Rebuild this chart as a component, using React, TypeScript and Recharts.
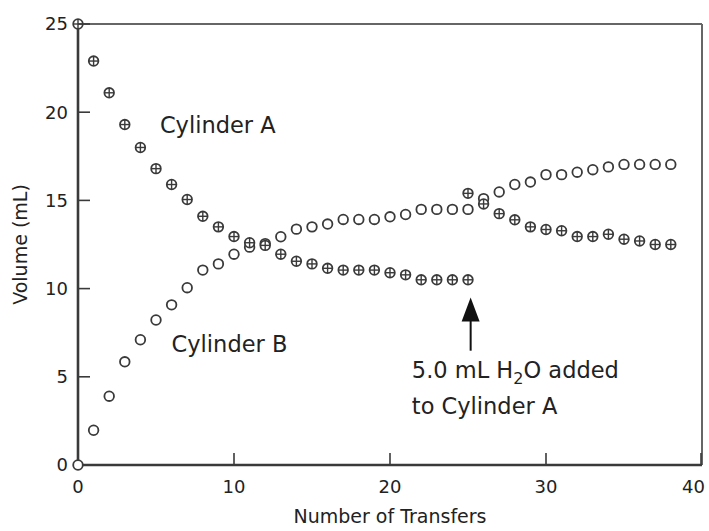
import React from 'react';
import {
  ScatterChart,
  Scatter,
  XAxis,
  YAxis,
  ReferenceLine,
  ReferenceDot,
} from 'recharts';

// Number of transfers
const transfersA1 = [0, 1, 2, 3, 4, 5, 6, 7, 8, 9, 10, 11, 12, 13, 14, 15, 16, 17, 18, 19, 20, 21, 22, 23, 24, 25];
const volumeA1 = [25.0, 22.9, 21.1, 19.3, 18.0, 16.8, 15.9, 15.05, 14.1, 13.5, 12.95, 12.6, 12.45, 11.95, 11.55, 11.4, 11.15, 11.05, 11.05, 11.05, 10.9, 10.78, 10.5, 10.5, 10.5, 10.5];
const transfersA2 = [25, 26, 27, 28, 29, 30, 31, 32, 33, 34, 35, 36, 37, 38];
const volumeA2 = [15.4, 14.8, 14.25, 13.9, 13.5, 13.35, 13.28, 12.95, 12.95, 13.08, 12.8, 12.7, 12.5, 12.5];
const transfersB = [0, 1, 2, 3, 4, 5, 6, 7, 8, 9, 10, 11, 12, 13, 14, 15, 16, 17, 18, 19, 20, 21, 22, 23, 24, 25, 26, 27, 28, 29, 30, 31, 32, 33, 34, 35, 36, 37, 38];
const volumeB = [0, 1.97, 3.9, 5.85, 7.1, 8.22, 9.08, 10.05, 11.05, 11.4, 11.95, 12.35, 12.55, 12.94, 13.37, 13.5, 13.66, 13.92, 13.92, 13.92, 14.07, 14.2, 14.49, 14.49, 14.49, 14.49, 15.1, 15.48, 15.9, 16.04, 16.46, 16.46, 16.6, 16.74, 16.9, 17.04, 17.04, 17.04, 17.04];

const xTicks = [0, 10, 20, 30, 40];
const yTicks = [0, 5, 10, 15, 20, 25];

const labelCylA = { x: 5.25, y: 18.8, text: 'Cylinder A' };
const labelCylB = { x: 6.0, y: 6.4, text: 'Cylinder B' };
const noteLine1 = { x: 21.4, y: 4.93 };
const noteLine2 = { x: 21.4, y: 2.88, text: 'to Cylinder A' };
const arrowX = 25.17;
const arrowTipY = 9.5;
const arrowBaseY = 6.48;

const dataA = [
  ...transfersA1.map((t, i) => ({ x: t, y: volumeA1[i] })),
  ...transfersA2.map((t, i) => ({ x: t, y: volumeA2[i] })),
];
const dataB = transfersB.map((t, i) => ({ x: t, y: volumeB[i] }));

const FONT = '"DejaVu Sans", sans-serif';
const INK = '#3a3a3a';

const OpenCircle = (props: any) => {
  const { cx, cy } = props;
  return <circle cx={cx} cy={cy} r={4.8} fill="#fff" stroke={INK} strokeWidth={1.8} />;
};

const CrossCircle = (props: any) => {
  const { cx, cy } = props;
  const r = 4.8;
  return (
    <g>
      <circle cx={cx} cy={cy} r={r} fill="#fff" stroke={INK} strokeWidth={1.8} />
      <line x1={cx - r} y1={cy} x2={cx + r} y2={cy} stroke={INK} strokeWidth={1.4} />
      <line x1={cx} y1={cy - r} x2={cx} y2={cy + r} stroke={INK} strokeWidth={1.4} />
    </g>
  );
};

const XTick = (props: any) => {
  const { x, y, payload, index } = props;
  const last = payload.value === xTicks[xTicks.length - 1];
  return (
    <g>
      {payload.value !== 0 && (
        <line x1={x} y1={y} x2={x} y2={y - 12} stroke={INK} strokeWidth={1.6} />
      )}
      <text
        x={last ? x + 4 : x}
        y={y + 28}
        textAnchor={last ? 'end' : 'middle'}
        fontSize={18}
        fontFamily={FONT}
        fill="#222"
      >
        {payload.value}
      </text>
    </g>
  );
};

const YTick = (props: any) => {
  const { x, y, payload } = props;
  return (
    <g>
      {payload.value !== 0 && (
        <line x1={x} y1={y} x2={x + 12} y2={y} stroke={INK} strokeWidth={1.6} />
      )}
      <text x={x - 10} y={y} dy="0.36em" textAnchor="end" fontSize={18} fontFamily={FONT} fill="#222">
        {payload.value}
      </text>
    </g>
  );
};

const TextAt = (text: React.ReactNode) => (props: any) => {
  const { cx, cy } = props;
  return (
    <text x={cx} y={cy} fontSize={22.5} fontFamily={FONT} fill="#222">
      {text}
    </text>
  );
};

const ArrowHead = (props: any) => {
  const { cx, cy } = props;
  return <polygon points={`${cx},${cy} ${cx - 9},${cy + 24} ${cx + 9},${cy + 24}`} fill="#111" />;
};

const YLabel = (props: any) => {
  const vb = props.viewBox || {};
  const cy = vb.y + vb.height / 2;
  return (
    <text x={20} y={cy} transform={`rotate(-90, 20, ${cy})`} textAnchor="middle" dominantBaseline="central" fontSize={19} fontFamily={FONT} fill="#222">
      Volume (mL)
    </text>
  );
};

const XLabel = (props: any) => {
  const vb = props.viewBox || {};
  const cx = vb.x + vb.width / 2;
  return (
    <text x={cx} y={523} textAnchor="middle" fontSize={19} fontFamily={FONT} fill="#222">
      Number of Transfers
    </text>
  );
};

export default function App() {
  return (
    <div style={{ position: 'absolute', left: 0, top: 0, width: 709, height: 531, background: '#fff' }}>
      <ScatterChart width={709} height={531} margin={{ top: 24, right: 7, bottom: 16, left: 18 }}>
        <XAxis
          type="number"
          dataKey="x"
          domain={[0, 40]}
          ticks={xTicks}
          height={50}
          tickSize={0}
          tickMargin={0}
          tickLine={false}
          axisLine={{ stroke: INK, strokeWidth: 2.6 }}
          tick={(p: any) => <XTick {...p} />}
          label={(p: any) => <XLabel {...p} />}
        />
        <YAxis
          type="number"
          dataKey="y"
          domain={[0, 25]}
          ticks={yTicks}
          width={60}
          tickSize={0}
          tickMargin={0}
          tickLine={false}
          axisLine={{ stroke: INK, strokeWidth: 2.6 }}
          tick={(p: any) => <YTick {...p} />}
          label={(p: any) => <YLabel {...p} />}
        />
        <ReferenceLine y={25} stroke="#666" strokeWidth={2} />
        <ReferenceLine x={40} stroke="#666" strokeWidth={2} />
        <ReferenceLine
          segment={[{ x: arrowX, y: arrowBaseY }, { x: arrowX, y: arrowTipY - 1 }]}
          stroke="#111"
          strokeWidth={2}
        />
        <ReferenceDot x={arrowX} y={arrowTipY} shape={ArrowHead} />
        <ReferenceDot x={labelCylA.x} y={labelCylA.y} shape={TextAt(labelCylA.text)} />
        <ReferenceDot x={labelCylB.x} y={labelCylB.y} shape={TextAt(labelCylB.text)} />
        <ReferenceDot
          x={noteLine1.x}
          y={noteLine1.y}
          shape={TextAt(
            <>
              5.0 mL H<tspan dy="6" fontSize={16}>2</tspan>
              <tspan dy="-6">O added</tspan>
            </>
          )}
        />
        <ReferenceDot x={noteLine2.x} y={noteLine2.y} shape={TextAt(noteLine2.text)} />
        <Scatter data={dataB} shape={OpenCircle} isAnimationActive={false} />
        <Scatter data={dataA} shape={CrossCircle} isAnimationActive={false} />
      </ScatterChart>
    </div>
  );
}
